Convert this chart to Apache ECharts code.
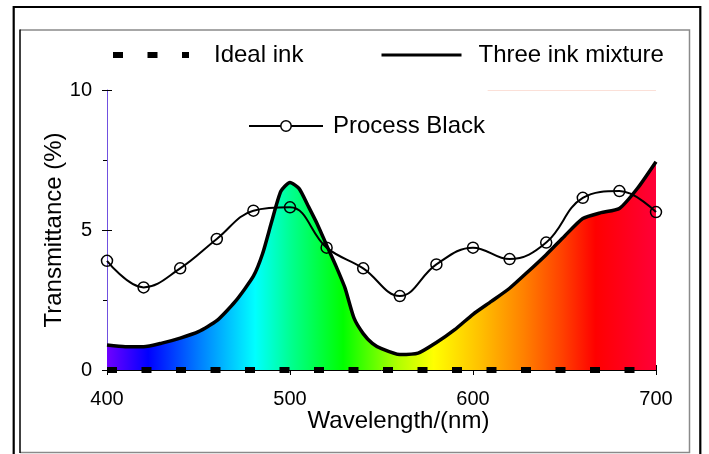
<!DOCTYPE html>
<html>
<head>
<meta charset="utf-8">
<script src="https://cdn.jsdelivr.net/npm/echarts@6/dist/echarts.min.js"></script>
<style>
  html, body { margin: 0; padding: 0; background: #fff; }
  #chart { width: 709px; height: 454px; }
</style>
</head>
<body>
<div id="chart"></div>
<script>
  // wavelengths (nm) and transmittance (%)
  const inkWavelengths = [400, 410, 420, 430, 440, 450, 460, 470, 480, 485, 490, 495, 500, 505, 510, 515, 520, 525, 530, 535, 540, 545, 550, 560, 570, 580, 590, 600, 610, 620, 630, 640, 650, 660, 670, 680, 690, 700]
  const threeInk = [0.89, 0.83, 0.83, 0.96, 1.14, 1.37, 1.76, 2.44, 3.35, 4.15, 5.3, 6.38, 6.7, 6.48, 5.85, 5.2, 4.46, 3.73, 2.94, 1.85, 1.3, 0.95, 0.76, 0.55, 0.6, 0.98, 1.44, 1.99, 2.45, 2.92, 3.51, 4.12, 4.78, 5.41, 5.62, 5.77, 6.5, 7.44]

  const pbWavelengths = [400, 420, 440, 460, 480, 500, 520, 540, 560, 580, 600, 620, 640, 660, 680, 700]
  const processBlack = [3.9, 2.95, 3.63, 4.68, 5.69, 5.81, 4.37, 3.63, 2.64, 3.77, 4.37, 3.96, 4.55, 6.15, 6.39, 5.64]

  const idealWavelengths = [400, 700]
  const idealInk = [0, 0]

  const xTicks = [400, 500, 600, 700]
  const yTicks = [0, 5, 10]

  const zip = (xs, ys) => xs.map((x, i) => [x, ys[i]])

  // spectrum under the three ink curve
  const spectrum = new echarts.graphic.LinearGradient(0, 0, 1, 0, [
    { offset: 0, color: '#7000ff' },
    { offset: 0.075, color: '#0000ff' },
    { offset: 0.17, color: '#0080ff' },
    { offset: 0.27, color: '#00ffff' },
    { offset: 0.335, color: '#00ff90' },
    { offset: 0.43, color: '#00ff00' },
    { offset: 0.53, color: '#b0ff00' },
    { offset: 0.595, color: '#ffff00' },
    { offset: 0.68, color: '#ffc000' },
    { offset: 0.76, color: '#ff8000' },
    { offset: 0.83, color: '#ff4000' },
    { offset: 0.89, color: '#ff0000' },
    { offset: 1, color: '#ff0038' }
  ])

  const font = 'Liberation Sans, Arial, sans-serif'
  const chart = echarts.init(document.getElementById('chart'))

  const option = {
    animation: false,
    backgroundColor: '#fff',
    textStyle: { fontFamily: font },
    grid: { left: 107, right: 53, top: 90, bottom: 84 },
    legend: [
      {
        data: [{ name: 'Ideal ink', itemStyle: { opacity: 0 } }],
        left: 110, top: 43, padding: 0,
        itemWidth: 76, itemHeight: 24,
        lineStyle: { width: 6 },
        textStyle: { fontSize: 24, color: '#000', padding: [0, 0, 0, 20] },
        selectedMode: false
      },
      {
        data: [{ name: 'Three ink mixture', itemStyle: { opacity: 0 } }],
        left: 380, top: 43, padding: 0,
        itemWidth: 80, itemHeight: 24,
        lineStyle: { width: 3 },
        textStyle: { fontSize: 24, color: '#000', padding: [0, 0, 0, 12] },
        selectedMode: false
      },
      {
        data: [{ name: 'Process Black', itemStyle: { color: '#fff', borderColor: '#000', borderWidth: 1.5 } }],
        left: 248, top: 114, padding: 0,
        itemWidth: 74, itemHeight: 13,
        lineStyle: { width: 2 },
        textStyle: { fontSize: 24, color: '#000', padding: [0, 0, 0, 5] },
        selectedMode: false
      }
    ],
    xAxis: [
      {
        type: 'value', min: xTicks[0], max: xTicks[xTicks.length - 1], interval: 100,
        name: 'Wavelength/(nm)', nameLocation: 'middle', nameGap: 39, nameMoveOverlap: false,
        nameTextStyle: { fontSize: 24, color: '#000', padding: [0, 0, 0, 34] },
        axisLine: { lineStyle: { color: '#000', width: 1 } },
        axisTick: { length: 5, lineStyle: { color: '#000' } },
        axisLabel: { fontSize: 20, color: '#000', margin: 19 },
        splitLine: { show: false }
      },
      {
        type: 'value', min: xTicks[0], max: xTicks[xTicks.length - 1], interval: 100,
        position: 'bottom',
        axisLine: { show: false },
        axisTick: { inside: true, length: 5, lineStyle: { color: '#000' } },
        axisLabel: { show: false },
        splitLine: { show: false }
      }
    ],
    yAxis: [
      {
        type: 'value', min: yTicks[0], max: yTicks[yTicks.length - 1], interval: 5,
        name: 'Transmittance (%)', nameLocation: 'middle', nameGap: 41, nameMoveOverlap: false,
        nameTextStyle: { fontSize: 24, color: '#000' },
        axisLine: { show: true, lineStyle: { color: '#7050e0', width: 1 } },
        axisTick: { length: 5, lineStyle: { color: '#000' } },
        minorTick: { show: true, splitNumber: 2, length: 4, lineStyle: { color: '#000' } },
        axisLabel: { fontSize: 20, color: '#000', margin: 15 },
        splitLine: { show: false }
      },
      {
        type: 'value', min: yTicks[0], max: yTicks[yTicks.length - 1], interval: 5,
        position: 'left',
        axisLine: { show: false },
        axisTick: { inside: true, length: 5, lineStyle: { color: '#000' } },
        axisLabel: { show: false },
        splitLine: { show: false }
      }
    ],
    series: [
      {
        name: 'Three ink mixture',
        type: 'line',
        data: zip(inkWavelengths, threeInk),
        smooth: 0.2,
        symbol: 'none',
        z: 2,
        lineStyle: { color: '#000', width: 3.5 },
        itemStyle: { color: '#000' },
        areaStyle: { color: spectrum, opacity: 1 },
        markLine: {
          silent: true, symbol: 'none', label: { show: false },
          lineStyle: { color: '#fbe0d8', width: 1, type: 'solid' },
          data: [[{ coord: [608, 10] }, { coord: [700, 10] }]]
        }
      },
      {
        name: 'Ideal ink',
        type: 'line',
        data: zip(idealWavelengths, idealInk),
        symbol: 'none',
        z: 3,
        lineStyle: { color: '#000', width: 6, type: [10, 24.5], cap: 'butt' },
        itemStyle: { color: '#000' }
      },
      {
        name: 'Process Black',
        type: 'line',
        data: zip(pbWavelengths, processBlack),
        smooth: 0.4,
        symbol: 'circle',
        symbolSize: 11,
        z: 4,
        lineStyle: { color: '#000', width: 2 },
        itemStyle: { color: 'rgba(0,0,0,0)', borderColor: '#000', borderWidth: 1.5 }
      }
    ],
    graphic: [
      {
        type: 'polyline', silent: true,
        shape: { points: [[13.7, 454], [13.7, 7], [700.3, 7], [700.3, 454]] },
        style: { stroke: '#000', lineWidth: 2.2, fill: null }
      },
      {
        type: 'polyline', silent: true,
        shape: { points: [[20, 30], [689.5, 30], [689.5, 452.5], [20, 452.5]] },
        style: { stroke: '#8a8a8a', lineWidth: 1.5, fill: null }
      },
      {
        type: 'line', silent: true,
        shape: { x1: 20, y1: 29.5, x2: 20, y2: 453 },
        style: { stroke: '#000', lineWidth: 1.5 }
      }
    ]
  }

  chart.setOption(option)
</script>
</body>
</html>
